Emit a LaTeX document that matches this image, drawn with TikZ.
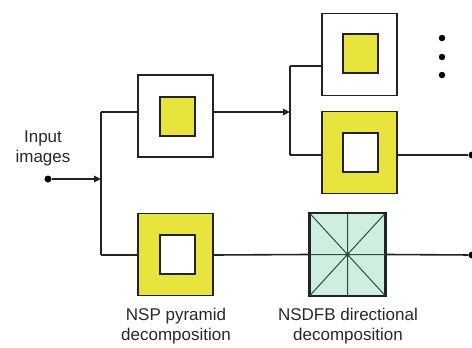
\documentclass[tikz,border=0pt]{standalone}
\usepackage{fontspec}
\setmainfont{Liberation Sans}
\usetikzlibrary{arrows.meta}
\definecolor{ylw}{RGB}{232,228,62}
\definecolor{mint}{RGB}{208,238,224}
\definecolor{dgreen}{RGB}{30,85,60}
\definecolor{edge}{RGB}{35,35,35}
\definecolor{txt}{RGB}{40,40,40}
\tikzset{
  outerbox/.style={draw=edge, line width=1.8pt, minimum width=75pt, minimum height=82pt, inner sep=0pt},
  innerbox/.style={draw=edge, line width=1.8pt, minimum width=35pt, minimum height=39pt, inner sep=0pt},
  wire/.style={draw=edge, line width=1.6pt},
  arr/.style={wire, -{Triangle[length=7pt,width=6.5pt]}},
  lbl/.style={text=txt, font=\fontsize{17}{20}\selectfont, align=center, inner sep=0pt},
  dotc/.style={circle, fill=black, inner sep=0pt, minimum size=7pt}
}
\begin{document}
\begin{tikzpicture}[x=1pt,y=-1pt]
\useasboundingbox (0,0) rectangle (472,348);
% boxes
\node[outerbox, fill=white] (a) at (175.5,116) {};
\node[innerbox, fill=ylw] (ai) at (177.5,116.5) {};
\node[outerbox, fill=ylw] (b) at (175.5,254.5) {};
\node[innerbox, fill=white] (bi) at (177.5,254.5) {};
\node[outerbox, fill=white] (c) at (359.5,54.5) {};
\node[innerbox, fill=ylw] (ci) at (360.5,53.5) {};
\node[outerbox, fill=ylw] (d) at (359.5,152.5) {};
\node[innerbox, fill=white] (di) at (360.5,152.5) {};
\node[outerbox, fill=mint, draw=edge] (e) at (347.5,254.5) {};
\draw[dgreen, line width=1pt] (e.north) -- (e.south) (e.west) -- (e.east)
  (e.north west) -- (e.south east) (e.north east) -- (e.south west);
\draw[edge, line width=1.8pt] (e.north west) rectangle (e.south east);
\fill[dgreen] (e.center) circle (2.2pt);
% junction coordinates
\coordinate (j1t) at (101,112);
\coordinate (j1b) at (101,255);
\coordinate (j1m) at (101,179);
\coordinate (j2t) at (290,66);
\coordinate (j2b) at (290,155);
\coordinate (j2m) at (290,112);
\node[dotc] (in) at (48,179) {};
\node[dotc] (o1) at (472,155) {};
\node[dotc] (o2) at (472,255) {};
% wires
\draw[arr] (in) -- (j1m);
\draw[wire] (j1t) -- (j1b);
\draw[wire] (j1t) -- (a.west |- j1t);
\draw[wire] (j1b) -- (b.west |- j1b);
\draw[arr] (a.east |- j2m) -- (j2m);
\draw[wire] (j2t) -- (j2b);
\draw[wire] (j2t) -- (c.west |- j2t);
\draw[wire] (j2b) -- (d.west |- j2b);
\draw[wire] (d.east |- o1) -- (o1);
\draw[wire] (b.east |- j1b) -- (e.west);
\draw[wire] (e.east) -- (o2);
% ellipsis dots
\node[dotc, minimum size=6.5pt] (v1) at (442,38) {};
\node[dotc, minimum size=6.5pt] (v2) at (442,57) {};
\node[dotc, minimum size=6.5pt] (v3) at (442,75) {};
% labels
\node[lbl] (lin) at (43,148) {Input\\images};
\node[lbl] (lb) at (176,326) {NSP pyramid\\decomposition};
\node[lbl] (le) at (348,326) {NSDFB directional\\decomposition};
\end{tikzpicture}
\end{document}
